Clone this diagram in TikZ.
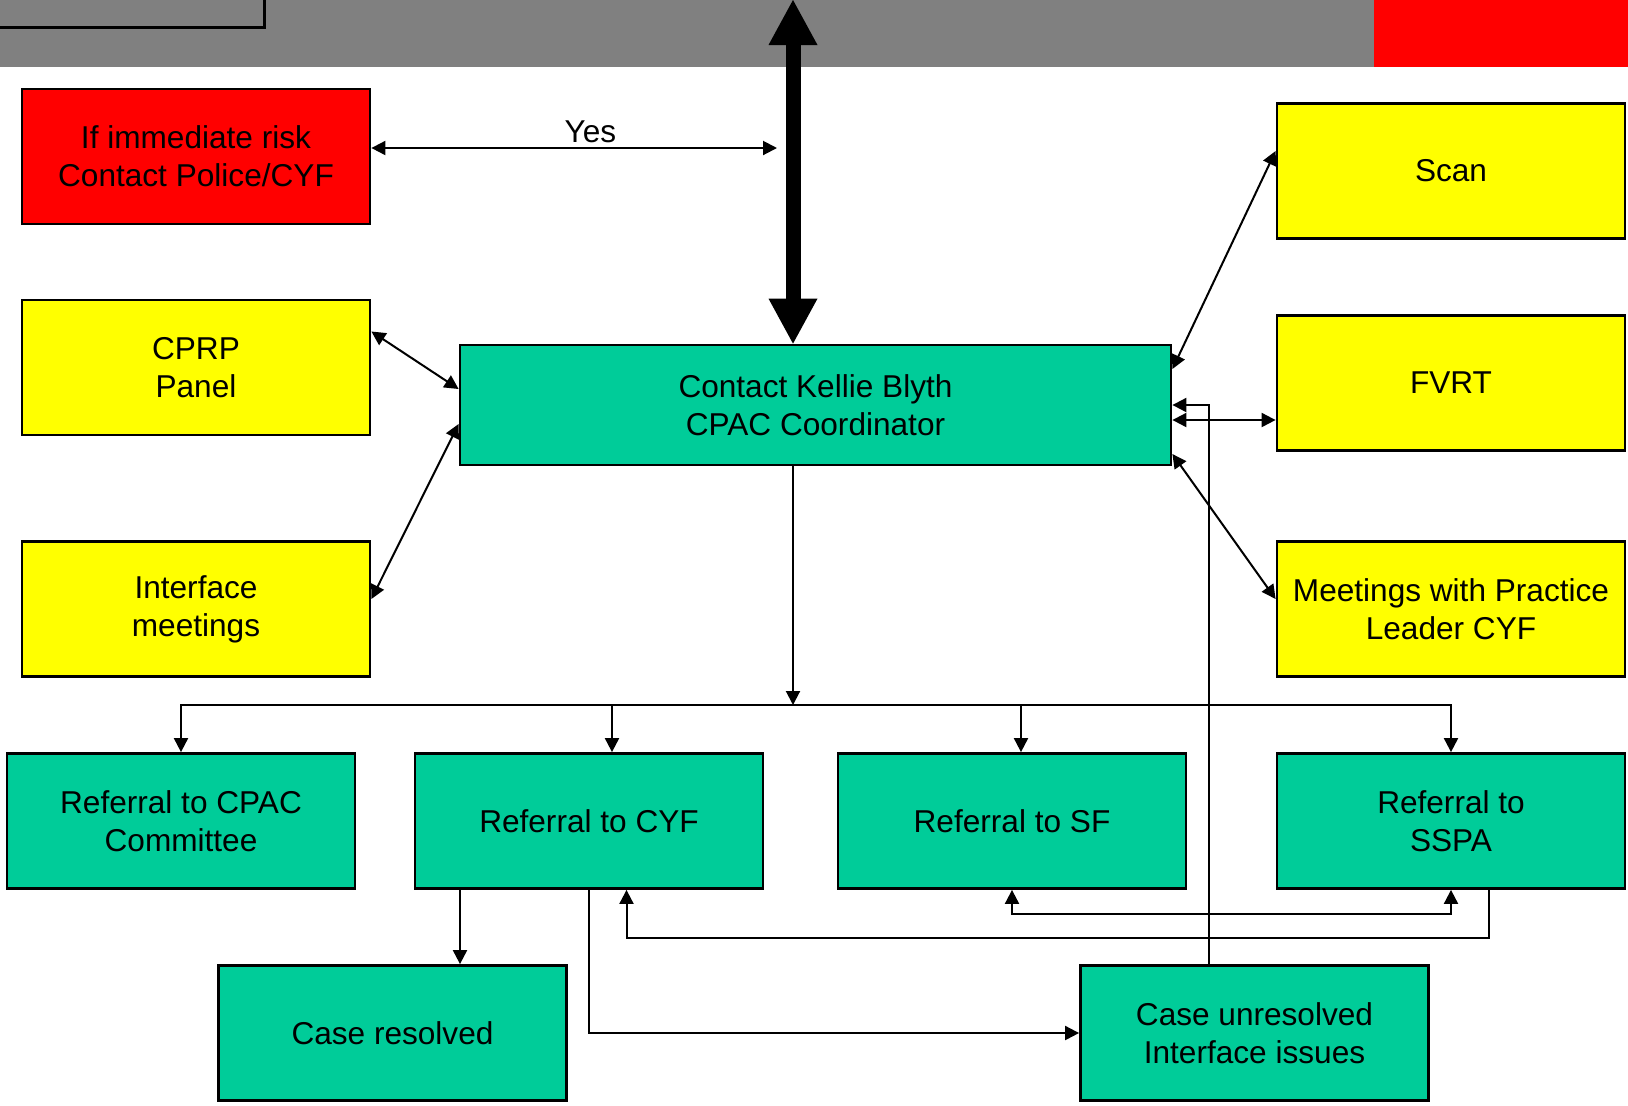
\documentclass[tikz,border=0pt]{standalone}
\usepackage{fontspec}
\setmainfont{Liberation Sans}
\usetikzlibrary{arrows.meta}

\definecolor{cpacgreen}{RGB}{0,204,153}
\definecolor{boxyellow}{RGB}{255,255,0}
\definecolor{boxred}{RGB}{255,0,0}
\definecolor{slidegray}{RGB}{128,128,128}

\begin{document}
\begin{tikzpicture}[x=0.5pt, y=-0.5pt,
	>={Triangle[length=7pt,width=7pt]},
	box/.style={draw=black, line width=1.4pt, minimum width=174pt, minimum height=67.5pt, inner sep=0pt, align=center, font=\fontsize{15.8}{19}\selectfont},
	conn/.style={line width=1pt},
	bigarrow/.style={line width=7.5pt, {Triangle[length=22.5pt,width=24.5pt,line width=0pt]}-{Triangle[length=22.5pt,width=24.5pt,line width=0pt]}}]

	\useasboundingbox (0,0) rectangle (1628,1105);
	\fill[white] (0,0) rectangle (1628,1105);

	% slide header
	\fill[slidegray] (0,0) rectangle (1374,66.5);
	\fill[boxred] (1374,0) rectangle (1628,66.5);
	\draw[line width=1.5pt, fill=slidegray] (-10,-10) rectangle (264,27);

	\node[box, fill=boxred] (risk) at (196,156.5) {If immediate risk\\Contact Police/CYF};
	\node[box, fill=boxyellow] (cprp) at (196,367.5) {CPRP\\Panel};
	\node[box, fill=boxyellow] (iface) at (196,609) {Interface\\meetings};

	\node[box, fill=cpacgreen, minimum width=355.5pt, minimum height=60pt] (kellie) at (815.5,405) {Contact Kellie Blyth\\CPAC Coordinator};

	\node[box, fill=boxyellow] (scan) at (1451,171) {Scan};
	\node[box, fill=boxyellow] (fvrt) at (1451,383) {FVRT};
	\node[box, fill=boxyellow] (meet) at (1451,609) {Meetings with Practice\\Leader CYF};

	\node[box, fill=cpacgreen] (cpac) at (181,821) {Referral to CPAC\\Committee};
	\node[box, fill=cpacgreen] (cyf) at (589,821) {Referral to CYF};
	\node[box, fill=cpacgreen] (sf) at (1012,821) {Referral to SF};
	\node[box, fill=cpacgreen] (sspa) at (1451,821) {Referral to\\SSPA};

	\node[box, fill=cpacgreen] (resolved) at (392.5,1033) {Case resolved};
	\node[box, fill=cpacgreen] (unresolved) at (1254.5,1033) {Case unresolved\\Interface issues};

	\coordinate (tip) at (793,0);
	\coordinate (yes) at (777,148);
	\coordinate (bus) at (793,705);

	\draw[bigarrow] (tip) -- (tip |- kellie.north);

	\draw[conn, <->] (risk.east |- yes) -- node[pos=0.54, above=-1pt, font=\fontsize{15.8}{19}\selectfont] {Yes} (yes);

	\draw[conn, <->] ([yshift=18pt]cprp.east) -- ([yshift=8pt]kellie.west);
	\draw[conn, <->] ([yshift=5pt]iface.east) -- ([yshift=-9.5pt]kellie.west);

	\draw[conn, <->] ([yshift=18pt]kellie.east) -- ([yshift=10pt]scan.west);
	\draw[conn, <->] ([yshift=-7.5pt]kellie.east) -- ([yshift=-7.5pt]kellie.east -| fvrt.west);
	\draw[conn, <->] ([yshift=-24.5pt]kellie.east) -- ([yshift=5pt]meet.west);

	% referrals
	\draw[conn, ->] (bus |- kellie.south) -- (bus);
	\draw[conn, ->] (bus) -| (cpac.north);
	\draw[conn, ->] (bus) -| (sspa.north);
	\draw[conn, ->] ([xshift=11.5pt]cyf.north |- bus) -- ([xshift=11.5pt]cyf.north);
	\draw[conn, ->] ([xshift=4.5pt]sf.north |- bus) -- ([xshift=4.5pt]sf.north);

	\draw[conn, ->] ([xshift=-64.5pt]cyf.south) -- ([xshift=-64.5pt]cyf.south |- resolved.north);
	\draw[conn, ->] (cyf.south) |- (unresolved.west);
	\draw[conn, ->] ([xshift=-22.75pt]unresolved.north) |- (kellie.east);

	\draw[conn, ->] ([xshift=18.75pt]sspa.south) -- ++(0,48) -| ([xshift=18.75pt]cyf.south);
	\draw[conn, <->] (sf.south) -- ++(0,24) -| (sspa.south);
\end{tikzpicture}
\end{document}
